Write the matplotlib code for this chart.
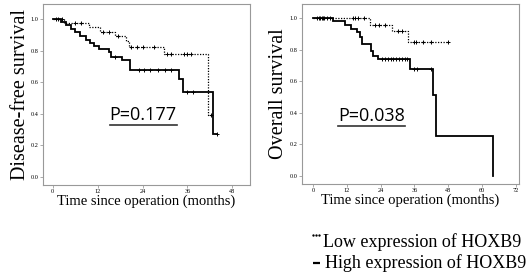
import numpy as np
import matplotlib
matplotlib.use("Agg")
import matplotlib.pyplot as plt

# ---------------- data ----------------
# Disease-free survival (left panel)
dfs_high_t = [0, 2.2, 3.6, 4.8, 6.0, 7.3, 9.0, 10.0, 11.0, 12.4, 14.9, 15.6, 18.4, 20.7, 33.6, 34.9, 42.9, 44.0]
dfs_high_s = [1.0, 0.98, 0.96, 0.94, 0.92, 0.89, 0.87, 0.85, 0.83, 0.81, 0.79, 0.76, 0.74, 0.68, 0.62, 0.54, 0.27, 0.27]
dfs_high_cens = [1.0, 16.5, 23.0, 24.5, 26.0, 28.0, 30.0, 31.5, 36.0, 37.5, 44.0]

dfs_low_t = [0, 3.0, 9.6, 12.6, 16.5, 19.5, 20.4, 29.6, 41.6, 42.2]
dfs_low_s = [1.0, 0.975, 0.95, 0.92, 0.89, 0.86, 0.82, 0.78, 0.39, 0.39]
dfs_low_cens = [1.5, 2.5, 6.0, 7.5, 13.5, 15.0, 17.5, 21.0, 22.5, 24.0, 27.0, 30.5, 31.5, 35.0, 36.0, 37.0, 42.2]

# Overall survival (right panel)
os_high_t = [0, 6.9, 11.3, 13.3, 15.4, 16.5, 17.2, 20.5, 21.2, 23.1, 34.6, 42.7, 43.7, 64.1]
os_high_s = [1.0, 0.98, 0.955, 0.935, 0.91, 0.88, 0.84, 0.79, 0.76, 0.74, 0.68, 0.51, 0.255, 0.0]
os_high_cens = [1.5, 2.5, 3.5, 24.5, 25.5, 26.5, 27.5, 28.5, 29.5, 30.5, 31.5, 32.5, 33.5, 36.0, 37.0, 42.0]

os_low_t = [0, 20.2, 27.9, 33.6, 48.0]
os_low_s = [1.0, 0.96, 0.92, 0.85, 0.85]
os_low_cens = [2.0, 3.0, 4.0, 5.0, 6.0, 14.0, 15.0, 16.0, 18.0, 22.0, 23.5, 25.5, 30.0, 31.5, 36.0, 36.5, 39.0, 42.0, 48.0]

left_xticks = [0, 12, 24, 36, 48]
right_xticks = [0, 12, 24, 36, 48, 60, 72]
yticks = [0.0, 0.2, 0.4, 0.6, 0.8, 1.0]

left_ylabel = "Disease-free survival"
right_ylabel = "Overall survival"
xlabel = "Time since operation (months)"
left_p = "P=0.177"
right_p = "P=0.038"
legend_low = "Low expression of HOXB9"
legend_high = "High expression of HOXB9"

# ---------------- drawing ----------------
serif = ["Liberation Serif", "DejaVu Serif"]
W, H = 527, 273
fig = plt.figure(figsize=(5.27, 2.73), dpi=100)
fig.patch.set_facecolor("white")

def surv_at(t_arr, s_arr, t):
    idx = np.searchsorted(np.asarray(t_arr), t, side="right") - 1
    return np.asarray(s_arr)[idx]

def panel(rect, xlim, xticks, ylim, ylabel, ptxt, ppos, curves):
    ax = fig.add_axes(rect)
    for t, s, cens, style in curves:
        if style == "solid":
            ax.step(t, s, where="post", color="black", lw=1.3, solid_joinstyle="miter")
        else:
            ax.step(t, s, where="post", color="black", lw=0.9, ls=(0, (1, 1.2)))
        cy = [surv_at(t, s, c) for c in cens]
        ax.plot(cens, cy, ls="none", marker="+", ms=2.5, mew=0.7, color="black")
    ax.set_xlim(*xlim)
    ax.set_ylim(*ylim)
    ax.set_xticks(xticks)
    ax.set_xticklabels([str(v) for v in xticks], fontfamily=serif, fontsize=4.5)
    ax.set_yticks(yticks)
    ax.set_yticklabels([f"{v:.1f}" for v in yticks], fontfamily=serif, fontsize=4.5)
    ax.tick_params(length=2, width=0.5, color="#888888", pad=1)
    for sp in ax.spines.values():
        sp.set_color("#999999")
        sp.set_linewidth(0.8)
    ax.set_ylabel(ylabel, fontfamily=serif, fontsize=14.5, labelpad=1)
    ax.set_xlabel(xlabel, fontfamily=serif, fontsize=10.5, labelpad=0)
    ax.text(ppos[0], ppos[1], ptxt, transform=ax.transAxes, fontfamily=["Open Sans", "DejaVu Sans"],
            fontsize=13, ha="center", va="center")
    return ax

axL = panel([0.0816, 0.3223, 0.3928, 0.663], (-2.6, 52.7), left_xticks, (-0.05, 1.095),
            left_ylabel, left_p, (0.483, 0.385),
            [(dfs_low_t, dfs_low_s, dfs_low_cens, "dotted"),
             (dfs_high_t, dfs_high_s, dfs_high_cens, "solid")])
axR = panel([0.5725, 0.326, 0.4123, 0.6593], (-4.1, 73.2), right_xticks, (-0.053, 1.091),
            right_ylabel, right_p, (0.321, 0.38),
            [(os_low_t, os_low_s, os_low_cens, "dotted"),
             (os_high_t, os_high_s, os_high_cens, "solid")])

# underlines of P values
fig.add_artist(plt.Line2D([110/W, 177/W], [1-125/H, 1-125/H], color="#333333", lw=1.2))
fig.add_artist(plt.Line2D([338/W, 405/W], [1-126/H, 1-126/H], color="#333333", lw=1.2))

# legend (text lines with drawn key symbols)
fig.add_artist(plt.Line2D([313/W, 316/W, 319.3/W], [1-235/H]*3, ls="none", marker="o",
                          ms=1.7, mew=0, color="black"))
fig.add_artist(plt.Line2D([313/W, 320/W], [1-263.3/H, 1-263.3/H], color="black", lw=1.6,
                          solid_capstyle="butt"))
fig.text(322.7/W, 1-246.7/H, legend_low, fontfamily=serif, fontsize=13, ha="left", va="baseline")
fig.text(325/W, 1-268.3/H, legend_high, fontfamily=serif, fontsize=13, ha="left", va="baseline")

fig.savefig("out.png", dpi=100, facecolor="white")
